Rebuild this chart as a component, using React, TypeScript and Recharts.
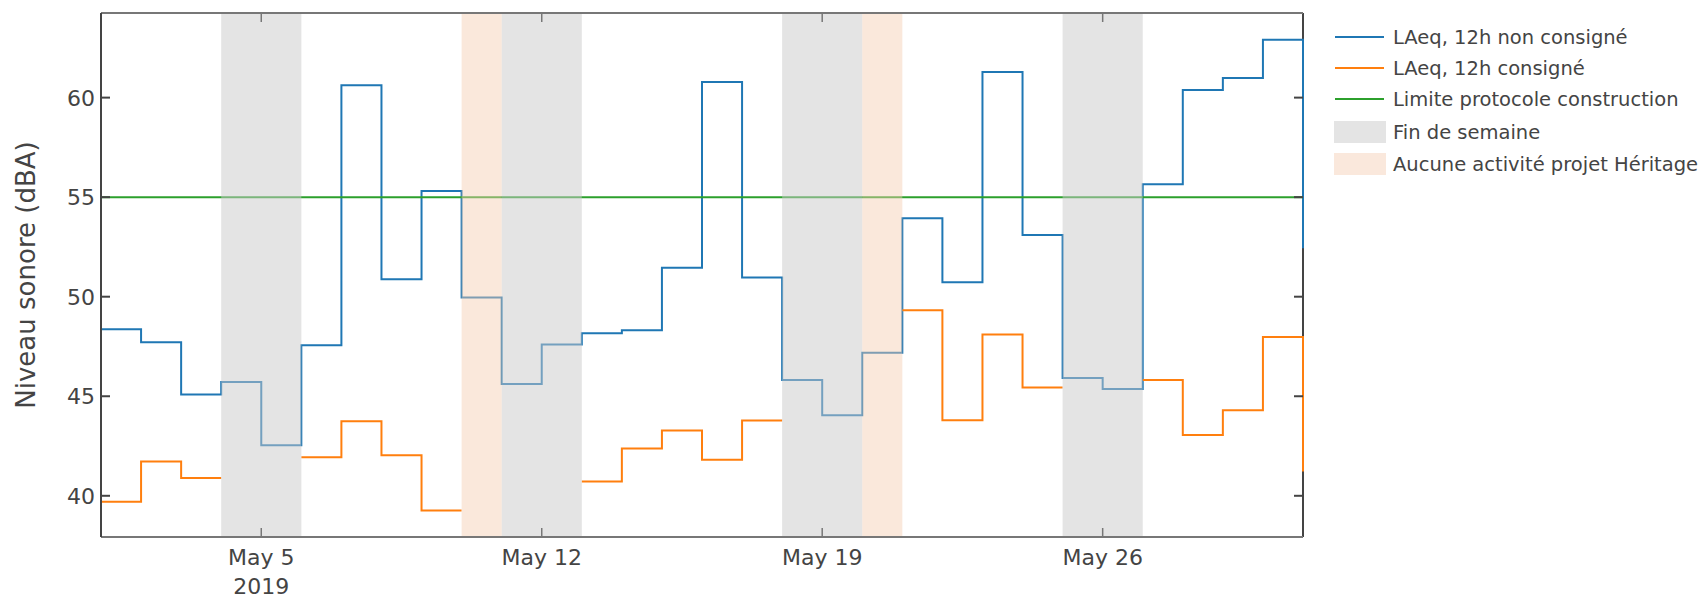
import React from 'react';
import { ComposedChart, Line, XAxis, YAxis, ReferenceArea } from 'recharts';

// one value per day, 2019-05-01 .. 2019-05-31
const days = [
  '2019-05-01', '2019-05-02', '2019-05-03', '2019-05-04', '2019-05-05', '2019-05-06', '2019-05-07',
  '2019-05-08', '2019-05-09', '2019-05-10', '2019-05-11', '2019-05-12', '2019-05-13', '2019-05-14',
  '2019-05-15', '2019-05-16', '2019-05-17', '2019-05-18', '2019-05-19', '2019-05-20', '2019-05-21',
  '2019-05-22', '2019-05-23', '2019-05-24', '2019-05-25', '2019-05-26', '2019-05-27', '2019-05-28',
  '2019-05-29', '2019-05-30', '2019-05-31',
];

const nonConsigne = [
  48.37, 47.71, 45.09, 45.72, 42.54, 47.56, 60.62, 50.88, 55.31, 49.96, 45.62, 47.6, 48.17, 48.32,
  51.46, 60.78, 50.96, 45.81, 44.05, 47.18, 53.94, 50.73, 61.29, 53.1, 45.92, 45.36, 55.65, 60.38,
  60.98, 62.91, 52.43,
];

const consigne: (number | null)[] = [
  39.7, 41.72, 40.89, null, null, 41.94, 43.75, 42.04, 39.26, null, null, null, 40.72, 42.38,
  43.28, 41.81, 43.78, null, null, null, 49.32, 43.8, 48.1, 45.44, null, null, 45.82, 43.05,
  44.3, 47.98, 41.22,
];

const limite = 55;

const tickDays = [4, 11, 18, 25];
const tickLabels = ['May 5', 'May 12', 'May 19', 'May 26'];
const yearLabel = '2019';
const yTicks = [40, 45, 50, 55, 60];

// [start, end] as day index
const finsDeSemaine = [[3, 5], [10, 12], [17, 19], [24, 26]];
const sansActivite = [[9, 10], [19, 20]];

const BLUE = '#1f77b4';
const ORANGE = '#ff7f0e';
const GREEN = '#2ca02c';
const TEXT = '#444';
const FONT = '"DejaVu Sans", Verdana, sans-serif';

const data = days.map((date, i) => ({
  t: i,
  date,
  nonConsigne: nonConsigne[i],
  // a step is drawn up to the next point, so close each run before a gap
  consigne: consigne[i] ?? (i > 0 ? consigne[i - 1] : null),
  limite,
}));

const legendItems = [
  { name: 'LAeq, 12h non consigné', color: BLUE, kind: 'line' },
  { name: 'LAeq, 12h consigné', color: ORANGE, kind: 'line' },
  { name: 'Limite protocole construction', color: GREEN, kind: 'line' },
  { name: 'Fin de semaine', color: '#e4e4e4', kind: 'rect' },
  { name: 'Aucune activité projet Héritage', color: '#fae8dc', kind: 'rect' },
];
const legendRows = [37, 68, 99, 132, 164];

const BottomTick = (props: any) => {
  const { x, y, payload } = props;
  const i = tickDays.indexOf(payload.value);
  return (
    <g>
      <line x1={x} y1={y} x2={x} y2={y - 9} stroke="#777" strokeWidth={1.5} />
      <text x={x} y={y + 28} textAnchor="middle" fontSize={22} fill={TEXT} fontFamily={FONT}>
        {tickLabels[i]}
      </text>
      {i === 0 && (
        <text x={x} y={y + 57} textAnchor="middle" fontSize={22} fill={TEXT} fontFamily={FONT}>
          {yearLabel}
        </text>
      )}
    </g>
  );
};

const TopTick = (props: any) => {
  const { x, y } = props;
  return <line x1={x} y1={y} x2={x} y2={y + 9} stroke="#777" strokeWidth={1.5} />;
};

const LeftTick = (props: any) => {
  const { x, y, payload } = props;
  return (
    <g>
      <line x1={x} y1={y} x2={x + 9} y2={y} stroke="#444" strokeWidth={2} />
      <text x={x - 6} y={y} dy="0.36em" textAnchor="end" fontSize={22} fill={TEXT} fontFamily={FONT}>
        {payload.value}
      </text>
    </g>
  );
};

const RightTick = (props: any) => {
  const { x, y } = props;
  return <line x1={x} y1={y} x2={x - 9} y2={y} stroke="#444" strokeWidth={2} />;
};

const YTitle = (props: any) => {
  const { viewBox } = props;
  const cy = viewBox.y + viewBox.height / 2;
  return (
    <text
      x={26}
      y={cy}
      transform={`rotate(-90, 26, ${cy})`}
      textAnchor="middle"
      dominantBaseline="central"
      fontSize={26}
      fill={TEXT}
      fontFamily={FONT}
    >
      Niveau sonore (dBA)
    </text>
  );
};

const Legend = () => (
  <svg width={368} height={190} style={{ position: 'absolute', left: 1334, top: 0 }}>
    {legendItems.map((item, i) => {
      const cy = legendRows[i];
      return (
        <g key={item.name}>
          {item.kind === 'line' ? (
            <line x1={1} y1={cy} x2={50} y2={cy} stroke={item.color} strokeWidth={2} />
          ) : (
            <rect x={0} y={cy - 11} width={52} height={22} fill={item.color} />
          )}
          <text x={59} y={cy} dy="0.36em" fontSize={19.5} fill={TEXT} fontFamily={FONT}>
            {item.name}
          </text>
        </g>
      );
    })}
  </svg>
);

export default function App() {
  const domainY: [number, number] = [37.93, 64.25];
  return (
    <div style={{ position: 'absolute', left: 0, top: 0, width: 1702, height: 597, background: '#fff' }}>
      <ComposedChart
        width={1702}
        height={597}
        data={data}
        margin={{ top: 12, right: 389, bottom: 0, left: 21 }}
      >
        <XAxis
          dataKey="t"
          type="number"
          domain={[0, 30]}
          ticks={tickDays}
          height={60}
          tickSize={0}
          tickMargin={0}
          tickLine={false}
          tick={<BottomTick />}
          axisLine={{ stroke: '#777', strokeWidth: 2 }}
        />
        <XAxis
          xAxisId="top"
          orientation="top"
          dataKey="t"
          type="number"
          domain={[0, 30]}
          allowDataOverflow
          ticks={tickDays}
          height={1}
          tickSize={0}
          tickMargin={0}
          tickLine={false}
          tick={<TopTick />}
          axisLine={{ stroke: '#777', strokeWidth: 2 }}
        />
        <YAxis
          type="number"
          domain={domainY}
          ticks={yTicks}
          width={80}
          tickSize={0}
          tickMargin={0}
          tickLine={false}
          tick={<LeftTick />}
          axisLine={{ stroke: '#444', strokeWidth: 2 }}
          label={<YTitle />}
        />
        <YAxis
          yAxisId="right"
          orientation="right"
          type="number"
          domain={domainY}
          allowDataOverflow
          ticks={yTicks}
          width={10}
          tickSize={0}
          tickMargin={0}
          tickLine={false}
          tick={<RightTick />}
          axisLine={{ stroke: '#444', strokeWidth: 2 }}
          zIndex={350}
        />
        <Line
          dataKey="nonConsigne"
          type="stepAfter"
          stroke={BLUE}
          strokeWidth={2}
          dot={false}
          activeDot={false}
          isAnimationActive={false}
        />
        <Line
          dataKey="consigne"
          type="stepAfter"
          stroke={ORANGE}
          strokeWidth={2}
          dot={false}
          activeDot={false}
          connectNulls={false}
          isAnimationActive={false}
        />
        <Line
          dataKey="limite"
          type="linear"
          stroke={GREEN}
          strokeWidth={2}
          dot={false}
          activeDot={false}
          isAnimationActive={false}
        />
        {finsDeSemaine.map(([a, b]) => (
          <ReferenceArea
            key={`we-${a}`}
            x1={a}
            x2={b}
            fill="#c9c9c9"
            fillOpacity={0.5}
            stroke="none"
            zIndex={450}
          />
        ))}
        {sansActivite.map(([a, b]) => (
          <ReferenceArea
            key={`na-${a}`}
            x1={a}
            x2={b}
            fill="#f5cdb0"
            fillOpacity={0.45}
            stroke="none"
            zIndex={450}
          />
        ))}
      </ComposedChart>
      <Legend />
    </div>
  );
}
